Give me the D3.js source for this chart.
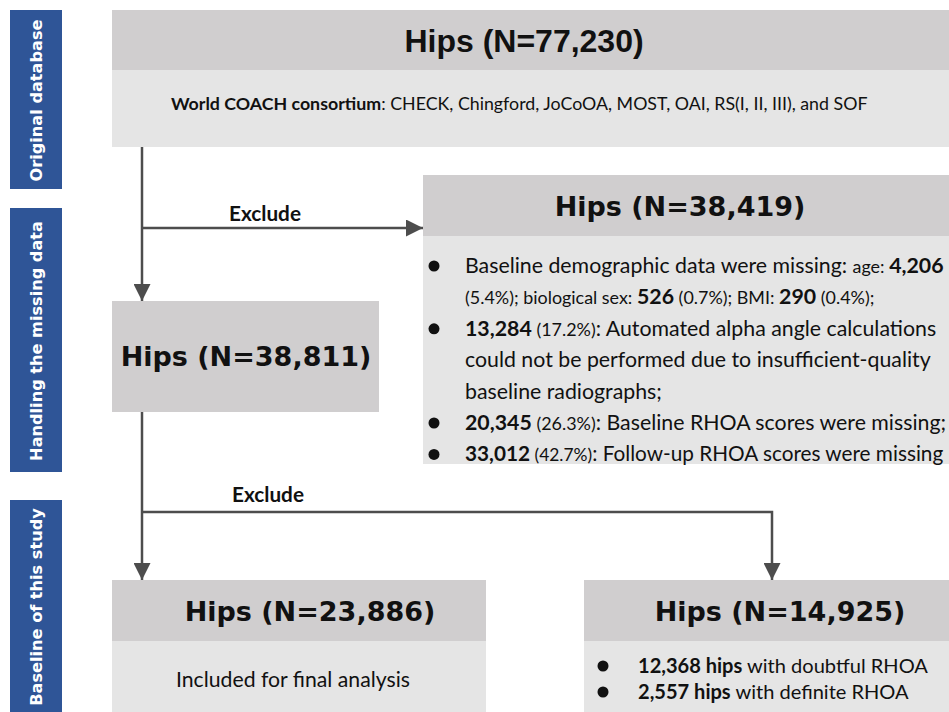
<!DOCTYPE html>
<html><head><meta charset="utf-8">
<script src="https://cdn.jsdelivr.net/npm/d3@7"></script>
<style>html,body{margin:0;padding:0;background:#fff;overflow:hidden}</style>
</head><body>
<script>
// ---------- data (text content of the flow chart) ----------
const stageLabels = ["Original database", "Handling the missing data", "Baseline of this study"];
const boxTitles = ["Hips (N=77,230)", "Hips (N=38,419)", "Hips (N=38,811)", "Hips (N=23,886)", "Hips (N=14,925)"];
const consortiumLabel = "World COACH consortium";
const cohorts = ": CHECK, Chingford, JoCoOA, MOST, OAI, RS(I, II, III), and SOF";
const excludeLabel = "Exclude";
// segments: [text, style]  n = normal, b = bold, s = small
const exclusionLines = [
  {bullet: true,  segs: [["Baseline demographic data were missing: ", "n"], ["age: ", "s"], ["4,206", "b"]]},
  {bullet: false, segs: [["(5.4%); biological sex: ", "s"], ["526", "b"], [" (0.7%); BMI: ", "s"], ["290", "b"], [" (0.4%);", "s"]]},
  {bullet: true,  segs: [["13,284", "b"], [" (17.2%)", "s"], [": Automated alpha angle calculations", "n"]]},
  {bullet: false, segs: [["could not be performed due to insufficient-quality", "n"]]},
  {bullet: false, segs: [["baseline radiographs;", "n"]]},
  {bullet: true,  segs: [["20,345", "b"], [" (26.3%)", "s"], [": Baseline RHOA scores were missing;", "n"]]},
  {bullet: true,  segs: [["33,012", "b"], [" (42.7%)", "s"], [": Follow-up RHOA scores were missing", "n"]]}
];
const includedLabel = "Included for final analysis";
const rhoaLines = [
  [["12,368 hips", "b"], [" with doubtful RHOA", "n"]],
  [["2,557 hips", "b"], [" with definite RHOA", "n"]]
];

// ---------- drawing ----------
const W = 949, H = 712;
const C = {side: "#2f5597", head: "#d0cecf", body: "#e5e5e5", line: "#4d4d4d", text: "#111"};
const TITLE_FONT = "'DejaVu Sans', Verdana, sans-serif";
const BODY_FONT = "Lato, 'Open Sans', sans-serif";

const svg = d3.select("body").append("svg").attr("width", W).attr("height", H)
  .style("font-family", BODY_FONT);

const defs = svg.append("defs");
defs.append("marker").attr("id", "arr").attr("markerUnits", "userSpaceOnUse")
  .attr("viewBox", "0 0 17 17").attr("markerWidth", 17).attr("markerHeight", 17)
  .attr("refX", 17).attr("refY", 8.5).attr("orient", "auto")
  .append("path").attr("d", "M0,0 L17,8.5 L0,17 Z").attr("fill", C.line);

// sidebar stages
const bands = [[10, 189], [208, 472], [500, 730]];
const yBand = d3.scaleOrdinal().domain(stageLabels).range(bands);
const side = svg.append("g");
stageLabels.forEach(lbl => {
  const [y0, y1] = yBand(lbl);
  side.append("rect").attr("x", 10).attr("y", y0).attr("width", 52).attr("height", y1 - y0)
    .attr("fill", C.side);
});
const sideTexts = stageLabels.map(lbl => {
  const [y0, y1] = yBand(lbl);
  const cy = lbl === "Baseline of this study" ? 607 : (y0 + y1) / 2 + 1;
  return side.append("text").attr("transform", `translate(42,${cy}) rotate(-90)`)
    .attr("text-anchor", "middle").attr("fill", "#fff").attr("font-weight", "bold")
    .attr("font-family", TITLE_FONT).attr("font-size", 16).text(lbl);
});
{
  const w = sideTexts[1].node().getComputedTextLength();
  const s = 16 * 240 / w;
  sideTexts.forEach(t => t.attr("font-size", s));
}

// boxes
function box(x, y, w, hh, bh) {
  svg.append("rect").attr("x", x).attr("y", y).attr("width", w).attr("height", hh).attr("fill", C.head);
  if (bh > 0) svg.append("rect").attr("x", x).attr("y", y + hh).attr("width", w).attr("height", bh).attr("fill", C.body);
}
box(112, 10, 900, 60, 77);     // 77,230
box(423, 175, 600, 61, 228);   // 38,419
box(112, 301, 267, 111, 0);    // 38,811
box(112, 580, 374, 61, 200);   // 23,886
box(584, 580, 420, 61, 200);   // 14,925

// titles
const titlePos = [[524, 52], [680, 216], [246, 366], [310, 621], [780, 621]];
boxTitles.forEach((t, i) => {
  svg.append("text").attr("x", titlePos[i][0]).attr("y", titlePos[i][1])
    .attr("text-anchor", "middle").attr("fill", C.text).attr("font-weight", "bold")
    .attr("font-family", i === 0 ? "'Liberation Sans', Arial, sans-serif" : TITLE_FONT)
    .attr("font-size", i === 0 ? 32 : 27).text(t);
});

// connectors
const lineG = svg.append("g").attr("fill", "none").attr("stroke", C.line).attr("stroke-width", 2.5);
function conn(pts) {
  lineG.append("path").attr("d", d3.line()(pts)).attr("marker-end", "url(#arr)");
}
conn([[142, 147], [142, 301]]);
conn([[142, 228], [423, 228]]);
conn([[142, 412], [142, 580]]);
conn([[142, 512], [772, 512], [772, 580]]);

[[265, 221], [268, 502]].forEach(([x, y]) => {
  const t = svg.append("text").attr("x", x).attr("y", y).attr("text-anchor", "middle").attr("font-weight", "bold")
    .attr("font-size", 19).attr("fill", C.text).text(excludeLabel);
  const w = t.node().getComputedTextLength();
  t.attr("font-size", 19 * 72 / w);
});

// multi-style lines
const REL = {n: 1, b: 1, s: 0.84};
function richLine(x, y, segs, size) {
  const t = svg.append("text").attr("x", x).attr("y", y).attr("fill", C.text).attr("xml:space", "preserve");
  segs.forEach(([txt, st]) => {
    t.append("tspan").attr("font-size", size * REL[st]).attr("font-weight", st === "b" ? "bold" : "normal")
      .style("white-space", "pre").text(txt);
  });
  return t;
}
function setSize(t, size, segs) {
  t.selectAll("tspan").each(function(d, i) { d3.select(this).attr("font-size", size * REL[segs[i][1]]); });
}

// top body line
const topSegs = [[consortiumLabel, "b"], [cohorts, "n"]];
const topLine = richLine(171, 110, topSegs, 17);
{ const w = topLine.node().getComputedTextLength(); setSize(topLine, 17 * 697 / w, topSegs); }

// exclusion bullet list
const exStart = 273, exStep = 31.4;
const exSize0 = 20;
const exEls = exclusionLines.map((ln, i) => {
  const y = exStart + i * exStep;
  if (ln.bullet) svg.append("circle").attr("cx", 434).attr("cy", y - 7).attr("r", 5.5).attr("fill", C.text);
  return richLine(465, y, ln.segs, exSize0);
});
{
  const w = exEls[3].node().getComputedTextLength();
  const s = exSize0 * 466 / w;
  exEls.forEach((t, i) => setSize(t, s, exclusionLines[i].segs));
  // keep the last line inside the picture
  const last = exEls[6], lw = last.node().getComputedTextLength();
  if (lw > 478) setSize(last, s * 478 / lw, exclusionLines[6].segs);
}

// included
const inc = svg.append("text").attr("x", 176).attr("y", 687).attr("font-size", 20).attr("fill", C.text).text(includedLabel);
{ const w = inc.node().getComputedTextLength(); inc.attr("font-size", 20 * 234 / w); }

// RHOA lines
const rhEls = rhoaLines.map((segs, i) => {
  const y = 673 + i * 26;
  svg.append("circle").attr("cx", 603).attr("cy", y - 7).attr("r", 5.5).attr("fill", C.text);
  return richLine(638, y, segs, 20);
});
{
  const w = rhEls[0].node().getComputedTextLength();
  const s = 20 * 290 / w;
  rhEls.forEach((t, i) => setSize(t, s, rhoaLines[i]));
}
</script>
</body></html>
